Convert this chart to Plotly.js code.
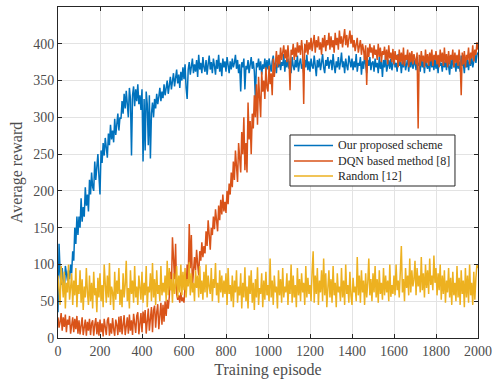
<!DOCTYPE html>
<html>
<head>
<meta charset="utf-8">
<script src="https://cdn.plot.ly/plotly-3.0.1.min.js"></script>
<style>html,body{margin:0;padding:0;background:#fff;}#chart{width:502px;height:385px;}</style>
</head>
<body>
<div id="chart"></div>
<script>
// Samples every 5 episodes, 0..2000
const firstEpisode = 0;
const lastEpisode = 2000;

const proposedScheme = [
35,128,90,72,95,82,60,98,85,78,92,80,100,88,118,105,150,128,165,140,
165,150,190,158,178,165,205,180,195,172,215,195,225,205,200,240,215,235,250,220,
195,255,238,265,248,272,258,245,278,262,290,270,282,266,298,276,290,305,282,300,
298,322,305,332,312,336,318,300,340,325,248,330,342,315,338,322,345,318,330,310,
338,240,325,255,335,318,262,330,244,305,320,300,325,312,332,318,328,340,322,335,
326,345,330,338,350,332,344,355,338,348,360,342,352,365,346,358,340,362,350,368,
352,372,340,325,365,375,358,368,380,360,372,362,378,355,385,365,374,360,382,368,
362,378,358,372,384,365,375,360,380,370,358,378,366,385,362,374,356,380,368,376,
362,382,370,360,376,365,380,368,374,385,366,378,360,372,335,375,368,380,338,370,
365,378,360,372,382,366,376,362,325,374,368,380,364,376,358,372,366,380,362,378,
365,380,370,362,376,384,366,374,360,378,368,382,364,375,370,386,362,378,368,380,
366,376,360,382,370,364,378,368,384,362,374,380,366,372,360,378,368,385,364,376,
362,380,370,366,384,372,356,378,368,380,364,374,386,368,360,378,370,382,366,376,
378,364,386,370,360,376,368,382,365,374,388,368,376,360,380,370,364,384,372,368,
380,364,376,368,386,362,374,370,382,358,376,366,384,368,360,378,370,382,364,374,
376,362,380,368,374,360,382,366,376,355,378,368,384,362,372,378,366,380,364,376,
382,368,374,362,386,370,378,360,376,368,382,364,374,380,362,378,368,384,366,374,
378,364,382,370,374,362,384,368,376,360,380,370,366,378,362,384,368,376,364,380,
366,378,360,384,370,374,362,380,368,376,364,382,370,358,378,366,384,368,374,362,
380,366,376,362,384,370,374,360,382,368,378,364,380,370,384,368,376,388,374,385,
388
];

const dqnMethod = [
28,14,22,34,10,28,15,32,8,25,18,30,6,22,28,8,26,12,30,6,
24,5,20,28,4,18,25,3,22,10,26,4,20,24,3,18,27,5,22,3,
25,8,20,2,26,15,4,24,28,3,20,6,27,12,3,25,18,4,29,8,
30,5,22,31,4,18,28,6,32,10,24,4,33,20,7,30,35,5,26,34,
8,36,20,38,6,32,40,10,28,42,8,38,44,14,35,46,12,40,48,18,
45,22,50,30,52,40,56,90,65,137,100,80,128,60,52,58,48,62,50,55,
48,70,62,100,80,155,95,140,70,88,110,92,120,100,85,118,105,130,110,125,
115,145,125,160,135,120,150,140,165,148,175,155,145,180,160,188,168,195,172,185,
170,200,182,210,195,225,205,240,215,255,230,212,265,245,225,280,250,300,228,265,
225,320,270,295,250,305,285,330,300,345,290,355,320,300,362,335,350,325,368,340,
335,370,345,360,330,380,355,372,390,368,385,372,395,378,388,398,380,392,375,398,
380,337,392,385,400,378,395,382,402,388,398,385,405,390,318,400,388,405,385,402,
392,408,390,400,412,388,405,395,410,392,402,385,408,395,412,390,405,398,415,392,
410,395,405,388,415,398,408,392,418,400,410,395,405,420,398,412,395,408,418,400,
412,395,405,390,400,408,388,398,405,385,400,392,378,398,344,395,382,400,388,395,
380,398,385,392,378,400,382,395,375,390,385,396,378,392,372,398,380,388,375,393,
372,390,378,385,368,392,375,388,372,395,370,385,378,392,368,388,375,390,372,386,
380,372,388,285,385,370,390,376,384,368,392,374,386,370,388,376,392,370,385,378,
390,372,385,368,392,375,388,370,395,374,386,368,390,372,385,378,392,368,388,374,
385,370,392,375,330,388,372,390,368,385,378,395,372,388,380,398,376,392,385,402,
392
];

const randomScheme = [
85,60,45,98,70,55,90,40,75,62,100,52,68,88,45,78,58,95,42,72,
60,92,48,80,38,70,55,95,62,45,85,50,75,40,90,58,68,35,82,55,
88,50,72,42,100,60,48,85,55,102,45,70,62,38,90,52,78,60,95,45,
66,42,88,55,72,105,50,68,40,92,60,78,48,98,55,70,45,85,62,52,
90,48,75,58,98,42,70,62,88,50,102,55,80,45,92,60,72,50,98,58,
75,62,85,50,105,58,95,65,80,48,88,60,72,98,55,85,62,100,58,90,
65,95,55,80,70,103,58,88,62,75,50,92,68,85,55,98,60,78,52,90,
62,100,55,85,70,60,95,50,80,68,102,58,75,48,92,62,85,55,78,60,
88,45,95,60,72,50,85,42,78,62,92,48,70,58,88,40,75,55,96,50,
70,40,85,60,92,48,75,38,80,55,96,45,68,60,88,42,78,52,90,58,
72,50,108,55,78,45,85,62,70,40,92,58,80,48,95,55,70,62,88,45,
78,60,100,48,85,55,72,42,95,58,80,50,88,62,75,45,98,55,82,60,
72,50,90,118,48,85,60,95,45,78,62,92,50,108,58,88,42,75,92,55,
80,48,98,58,75,42,88,62,70,50,95,55,78,45,100,60,72,48,90,58,
45,82,62,70,50,110,58,85,48,92,62,78,45,88,55,75,108,58,80,50,
88,62,98,55,80,48,92,60,75,52,95,58,85,62,78,50,100,56,72,60,
85,58,100,65,78,55,90,125,62,80,50,95,68,85,58,108,62,92,70,80,
105,58,95,70,85,62,110,65,88,55,100,68,92,60,108,72,85,65,112,75,
95,58,88,65,100,52,85,60,92,48,78,62,95,55,82,45,90,58,75,50,
98,55,82,45,92,60,78,42,95,55,85,48,100,58,75,45,90,52,82,100,
95
];

const seriesNames = ["Our proposed scheme", "DQN based method [8]", "Random [12]"];
const xTicks = [0,200,400,600,800,1000,1200,1400,1600,1800,2000];
const yTicks = [0,50,100,150,200,250,300,350,400,450];

const colors = ["#0072BD", "#D95319", "#EDB120"];
const allSeries = [proposedScheme, dqnMethod, randomScheme];
const serif = '"Liberation Serif", "Times New Roman", serif';

const traces = allSeries.map((ys, k) => ({
  type: "scatter",
  mode: "lines",
  x: ys.map((_, i) => firstEpisode + i * (lastEpisode - firstEpisode) / (ys.length - 1)),
  y: ys,
  name: seriesNames[k],
  line: {color: colors[k], width: 1.5}
}));

// Legend box drawn in paper coordinates
const legendBox = {x0: 0.5524, x1: 0.9452, y0: 0.4592, y1: 0.6133};
const legendRowsY = [0.5816, 0.5347, 0.4894];
const legendLineX = [0.5619, 0.6548];
const legendTextX = 0.6619;

const shapes = [{
  type: "rect", xref: "paper", yref: "paper",
  x0: legendBox.x0, x1: legendBox.x1, y0: legendBox.y0, y1: legendBox.y1,
  fillcolor: "#ffffff", line: {color: "#262626", width: 1}, layer: "above"
}].concat(seriesNames.map((n, k) => ({
  type: "line", xref: "paper", yref: "paper",
  x0: legendLineX[0], x1: legendLineX[1], y0: legendRowsY[k], y1: legendRowsY[k],
  line: {color: colors[k], width: 1.5}, layer: "above"
})));

const annotations = seriesNames.map((n, k) => ({
  xref: "paper", yref: "paper", x: legendTextX, y: legendRowsY[k],
  xanchor: "left", yanchor: "middle", showarrow: false,
  text: n, font: {family: serif, size: 12, color: "#262626"}
}));

const axisCommon = {
  showline: true,
  mirror: "ticks",
  linecolor: "#262626",
  linewidth: 1,
  ticks: "inside",
  ticklen: 4,
  tickcolor: "#262626",
  showgrid: true,
  gridcolor: "#e3e3e3",
  gridwidth: 1,
  zeroline: false,
  tickfont: {family: serif, size: 14, color: "#4d4d4d"}
};

const layout = {
  width: 502,
  height: 385,
  margin: {l: 58, r: 24, t: 7, b: 47},
  paper_bgcolor: "#ffffff",
  plot_bgcolor: "#ffffff",
  showlegend: false,
  shapes: shapes,
  annotations: annotations,
  xaxis: Object.assign({}, axisCommon, {
    range: [0, 2000],
    tickvals: xTicks,
    ticktext: xTicks.map(String),
    title: {text: "Training episode", font: {family: serif, size: 16, color: "#4d4d4d"}, standoff: 6}
  }),
  yaxis: Object.assign({}, axisCommon, {
    range: [0, 450],
    tickvals: yTicks,
    ticktext: yTicks.map(String),
    title: {text: "Average reward", font: {family: serif, size: 16, color: "#4d4d4d"}, standoff: 6}
  })
};

Plotly.newPlot("chart", traces, layout, {displayModeBar: false, staticPlot: true});
</script>
</body>
</html>
